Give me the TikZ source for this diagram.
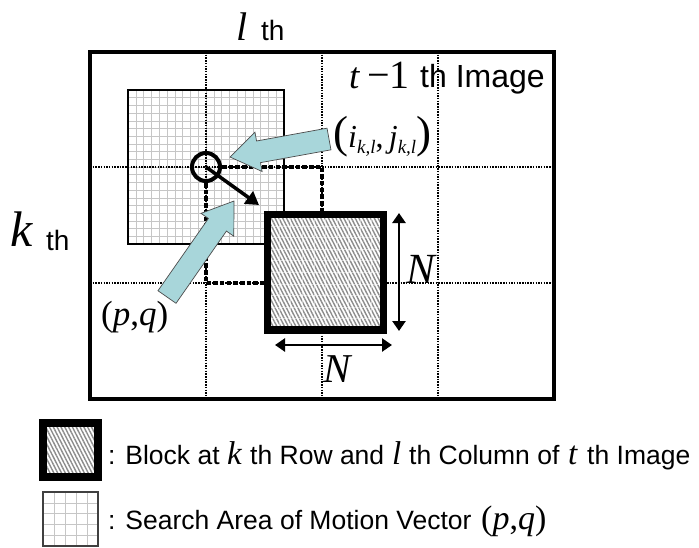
\documentclass[tikz,border=0pt]{standalone}
\usepackage{fontspec}
\setmainfont{Liberation Sans}
\newfontfamily\tms{Liberation Serif}
\usetikzlibrary{calc,patterns.meta,arrows.meta}
\definecolor{arrcyan}{RGB}{168,214,218}
\newcommand\cyanarr[2]{%
  \coordinate (#1b) at ($(#2)!29pt!(#1)$);
  \draw[cyanarrow] ($(#1)!11pt!90:(#2)$) -- ($(#1b)!11pt!90:(#2)$) -- ($(#1b)!20pt!90:(#2)$) -- (#2)
    -- ($(#1b)!20pt!-90:(#2)$) -- ($(#1b)!11pt!-90:(#2)$) -- ($(#1)!11pt!-90:(#2)$) -- cycle;}
\tikzset{
  gridline/.style={line width=2.3pt, dash pattern=on 1.5pt off 1.2pt},
  thickdash/.style={line width=4.2pt, dash pattern=on 4.5pt off 2.2pt},
  sgrid/.style={gray!45, line width=0.6pt},
  cyanarrow/.style={fill=arrcyan, draw=black!70, line width=0.7pt, line join=miter},
  dblarrow/.style={line width=2.5pt, {Triangle[length=10pt,width=13pt]}-{Triangle[length=10pt,width=13pt]}},
  hatch/.style={pattern={Lines[angle=-63,distance=3.4pt,line width=1.4pt]}, pattern color=gray!90},
  lbl/.style={inner sep=0pt, anchor=base west},
  legtext/.style={lbl, font=\fontsize{26.5}{27}\selectfont},
  legmath/.style={lbl, font=\fontsize{33}{33}\tms\itshape},
}
\begin{document}
\begin{tikzpicture}[x=1pt,y=-1pt]
\useasboundingbox (0,0) rectangle (699,547);
% search area
\fill[white] (128,90) rectangle (284,244);
\foreach \i in {1,...,19} {
  \draw[sgrid] ({128+7.8*\i},90) -- ({128+7.8*\i},244);
  \draw[sgrid] (128,{90+7.7*\i}) -- (284,{90+7.7*\i});
}
\draw[line width=1.6pt] (128,90) rectangle (284,244);
% dotted grid of blocks
\foreach \x in {206,322,438} \draw[gridline] (\x,52) -- (\x,399);
\foreach \y in {167,283} \draw[gridline] (90,\y) -- (554,\y);
% circle
\node[circle, draw, line width=4pt, minimum size=28pt, inner sep=0pt] (c) at (206,167) {};
% block
\coordinate (blkA) at (267.7,214.5);
\coordinate (blkB) at (383.3,330.2);
\coordinate (dcorner) at (322,167);
\coordinate (dcorner2) at (206,283);
\draw[thickdash] (c.east) -- (dcorner) -- (dcorner |- blkA);
\draw[thickdash] (c.south) -- (dcorner2) -- (dcorner2 -| blkA);
\fill[white] (blkA) rectangle (blkB);
\fill[hatch] (blkA) rectangle (blkB);
\foreach \i in {1,...,9} {
  \draw[white, opacity=0.5, line width=0.8pt] ({267.7+11.56*\i},214.5) -- ({267.7+11.56*\i},330.2);
  \draw[white, opacity=0.5, line width=0.8pt] (267.7,{214.5+11.57*\i}) -- (383.3,{214.5+11.57*\i});
}
\draw[line width=7.5pt] (blkA) rectangle (blkB);
% motion vector
\coordinate (mv) at (259,205);
\draw[line width=3.5pt, -{Triangle[length=13pt,width=15pt]}] (c.center) -- (mv);
% cyan arrows
\coordinate (a1) at (329,139);
\coordinate (t1) at (230,157);
\cyanarr{a1}{t1}
\coordinate (a2) at (167,297);
\coordinate (t2) at (234,201);
\cyanarr{a2}{t2}
% N arrows
\coordinate (v1) at (399,213);
\coordinate (v2) at (399,331);
\draw[dblarrow] (v1) -- (v2);
\coordinate (h1) at (275,345);
\coordinate (h2) at (392,345);
\draw[dblarrow] (h1) -- (h2);
% frame
\draw[line width=4pt] (90,52) rectangle (554,399);
% labels
\node[lbl, font=\fontsize{40}{40}\tms\itshape] (ll) at (236,40) {l};
\node[lbl, font=\fontsize{28}{28}\selectfont] (llth) at (261,40) {th};
\node[lbl, font=\fontsize{50}{50}\tms\itshape] (kk) at (10,246) {k};
\node[lbl, font=\fontsize{28}{28}\selectfont] (kkth) at (46,250) {th};
\node[lbl, font=\fontsize{37}{37}\tms\itshape] (tt) at (349,88) {t};
\node[lbl, font=\fontsize{40}{40}\tms] (tm) at (367,88) {−1};
\node[lbl, font=\fontsize{32}{32}\selectfont] (timg) at (420,87) {th Image};
\node[lbl] (ij) at (333,147) {{\fontsize{45}{45}\tms(}{\fontsize{32}{32}\tms\itshape i}\raisebox{-6pt}{\fontsize{19}{19}\tms\itshape k,l}{\fontsize{32}{32}\tms,\,}{\fontsize{32}{32}\tms\itshape j}\raisebox{-6pt}{\fontsize{19}{19}\tms\itshape k,l}{\fontsize{45}{45}\tms)}};
\node[lbl, font=\fontsize{35}{35}\tms] (pq) at (101,325) {(\textit{p},\textit{q})};
\node[lbl, font=\fontsize{43}{43}\tms\itshape] (n1) at (406,283) {N};
\node[lbl, font=\fontsize{41}{41}\tms\itshape] (n2) at (323,382) {N};
% legend icons
\fill[white] (43,423) rectangle (98,477);
\fill[hatch] (43,423) rectangle (98,477);
\draw[line width=8pt] (43,423) rectangle (98,477);
\fill[white] (43,492) rectangle (98,546);
\foreach \i in {1,...,4} {
  \draw[sgrid] ({43+11*\i},492) -- ({43+11*\i},546);
  \draw[sgrid] (43,{492+10.8*\i}) -- (98,{492+10.8*\i});
}
\draw[line width=1.5pt, black!75] (43,492) rectangle (98,546);
% legend texts
\node[legtext] (lg1) at (108,464) {: Block at};
\node[legmath] (lgk) at (227,464) {k};
\node[legtext] (lg2) at (250,464) {th Row and};
\node[legmath] (lgl) at (392,464) {l};
\node[legtext] (lg3) at (409,464) {th Column of};
\node[legmath] (lgt) at (568,464) {t};
\node[legtext] (lg4) at (587,464) {th Image};
\node[legtext] (lg5) at (108,529) {: Search Area of Motion Vector};
\node[lbl, font=\fontsize{34}{34}\tms] (lgpq) at (481,529) {(\textit{p},\textit{q})};
\end{tikzpicture}
\end{document}
